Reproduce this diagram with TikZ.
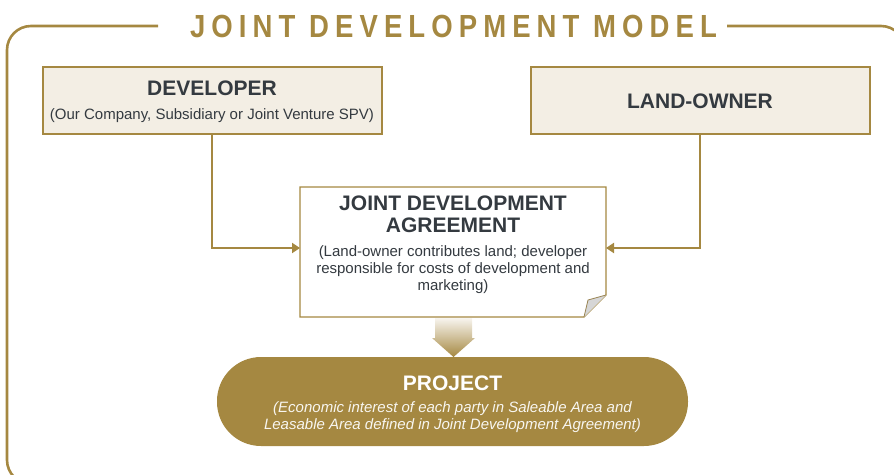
\documentclass[tikz,border=0pt]{standalone}
\usepackage{fontspec}
\setmainfont{Liberation Sans}
\newfontfamily\titlefont[LetterSpace=19,FakeStretch=0.86]{Liberation Sans}
\usetikzlibrary{arrows.meta,shadings}
\definecolor{gold}{HTML}{A58841}
\definecolor{cream}{HTML}{F3EEE4}
\definecolor{ink}{HTML}{343A40}
\definecolor{foldgray}{HTML}{D6D6D6}
\begin{document}
\begin{tikzpicture}[x=1pt,y=-1pt,
  frame/.style={draw=gold,line width=2.6pt,rounded corners=24pt},
  partybox/.style={draw=gold,line width=1.3pt,fill=cream},
  link/.style={draw=gold,line width=2pt,-{Triangle[length=8pt,width=10pt]}},
  headtext/.style={font=\fontsize{21}{22}\selectfont\bfseries,text=ink,align=center,inner sep=0pt},
  subtext/.style={font=\fontsize{15}{16.8}\selectfont,text=ink,align=center,inner sep=0pt},
]
\useasboundingbox (0,0) rectangle (894,474);
\clip (0,0) rectangle (894,474);
% outer frame
\draw[frame] (158,26) -- (7,26) -- (7,484) -- (905,484) -- (905,26) -- (727,26);
\node[inner sep=0pt] (title) at (453.5,26) {\titlefont\fontsize{32}{34}\selectfont\bfseries\color{gold}JOINT DEVELOPMENT MODEL};
% developer
\path[partybox] (43,67) rectangle (382,134);
\coordinate (dev) at (212,134);
\node[headtext] (devt) at (212,88) {DEVELOPER};
\node[subtext] (devs) at (212,116) {(Our Company, Subsidiary or Joint Venture SPV)};
% land-owner
\path[partybox] (531,67) rectangle (870,134);
\coordinate (land) at (700,134);
\node[headtext] (landt) at (700,101) {LAND-OWNER};
% agreement
\draw[draw=gold,line width=1.3pt,fill=white] (300,187) -- (606,187) -- (606,295) -- (584,317) -- (300,317) -- cycle;
\fill[foldgray] (606,295) -- (588,300) -- (584,317) -- cycle;
\draw[gold!70!gray,line width=0.8pt] (606,295) -- (588,300) -- (584,317);
\coordinate (agrL) at (300,248);
\coordinate (agrR) at (606,248);
\node[headtext] (agrt) at (453,214) {JOINT DEVELOPMENT\\AGREEMENT};
\node[subtext] (agrs) at (453,269.5) {(Land-owner contributes land; developer\\responsible for costs of development and\\marketing)};
% connectors
\draw[link] (dev) |- (agrL);
\draw[link] (land) |- (agrR);
% gradient arrow
\shade[top color=cream!60!white,bottom color=gold] (435,318) -- (472,318) -- (472,338) -- (475,338) -- (453.5,357) -- (432,338) -- (435,338) -- cycle;
% project
\node[fill=gold,rounded corners=44pt,minimum width=471pt,minimum height=89pt] (proj) at (452.5,401.5) {};
\node[font=\fontsize{21}{22}\selectfont\bfseries,text=white,inner sep=0pt] (projt) at (452.5,383) {PROJECT};
\node[font=\fontsize{15}{17}\selectfont\itshape,text=white!92!gold,align=center,inner sep=0pt] (projs) at (452.5,417.5) {(Economic interest of each party in Saleable Area and\\Leasable Area defined in Joint Development Agreement)};
\end{tikzpicture}
\end{document}
